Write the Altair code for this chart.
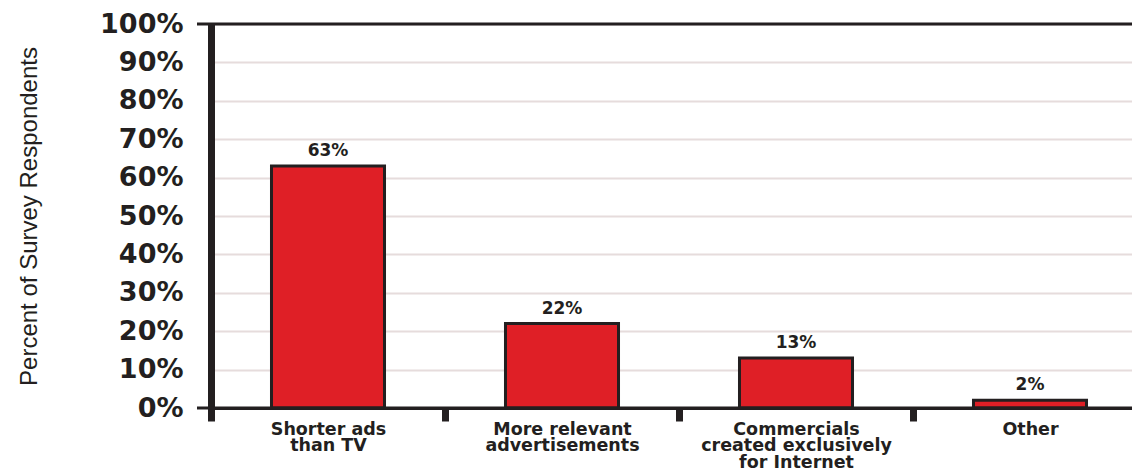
import altair as alt
import pandas as pd

categories = [
    "Shorter ads\nthan TV",
    "More relevant\nadvertisements",
    "Commercials\ncreated exclusively\nfor Internet",
    "Other",
]
values = [63, 22, 13, 2]
value_labels = ["63%", "22%", "13%", "2%"]
y_ticks = list(range(0, 101, 10))
frame_levels = [0, 100]

INK = "#231f20"
RED = "#df1f26"

bars_df = pd.DataFrame({"cat": categories, "pct": values, "lab": value_labels})
frame_df = pd.DataFrame({"pct": frame_levels})

x_enc = alt.X(
    "cat:N",
    sort=categories,
    scale=alt.Scale(range=[0, 936], paddingInner=0, paddingOuter=0),
    axis=alt.Axis(
        title=None,
        labelExpr="split(datum.label, '\\n')",
        labelFont="DejaVu Sans",
        labelFontWeight="bold",
        labelFontSize=17.5,
        labelLineHeight=16.8,
        labelColor=INK,
        labelPadding=-1,
        labelAngle=0,
        labelBaseline="top",
        labelLimit=0,
        labelOverlap=False,
        domainColor=INK,
        domainWidth=3,
        ticks=True,
        tickBand="extent",
        tickColor=INK,
        tickWidth=7,
        tickSize=13,
        grid=False,
    ),
)

y_enc = alt.Y(
    "pct:Q",
    scale=alt.Scale(domain=[0, 100], nice=False),
    axis=alt.Axis(
        title="Percent of Survey Respondents",
        titleFont="Liberation Sans",
        titleFontWeight="normal",
        titleFontSize=24,
        titleColor=INK,
        titleX=-175,
        titleY=192,
        titleBaseline="alphabetic",
        values=y_ticks,
        tickCount=11,
        labelExpr="datum.value + '%'",
        labelFont="DejaVu Sans",
        labelFontWeight="bold",
        labelFontSize=27,
        labelColor=INK,
        labelPadding=28,
        labelOverlap=False,
        ticks=False,
        domainColor=INK,
        domainWidth=7,
        grid=True,
        gridColor="#e6dcdc",
        gridWidth=2,
    ),
)

bars = alt.Chart(bars_df).mark_bar(
    color=RED, stroke=INK, strokeWidth=3, width=alt.RelativeBandSize(0.483)
).encode(x=x_enc, y=y_enc)

texts = alt.Chart(bars_df).mark_text(
    baseline="bottom", dy=-6, font="DejaVu Sans", fontWeight="bold",
    fontSize=17, color=INK
).encode(x=x_enc, y=y_enc, text="lab:N")

frame = alt.Chart(frame_df).mark_rule(color=INK, strokeWidth=3).encode(
    y=y_enc, x=alt.value(-14), x2=alt.value(936)
)

chart = (
    alt.layer(bars, texts, frame)
    .properties(
        width=921,
        height=384,
        autosize=alt.AutoSizeParams(type="none"),
        padding={"left": 203, "top": 16, "right": 0, "bottom": 64},
        background="white",
    )
    .configure_view(strokeWidth=0)
)

chart.save("out.html", embed_options={"renderer": "svg", "actions": False})
